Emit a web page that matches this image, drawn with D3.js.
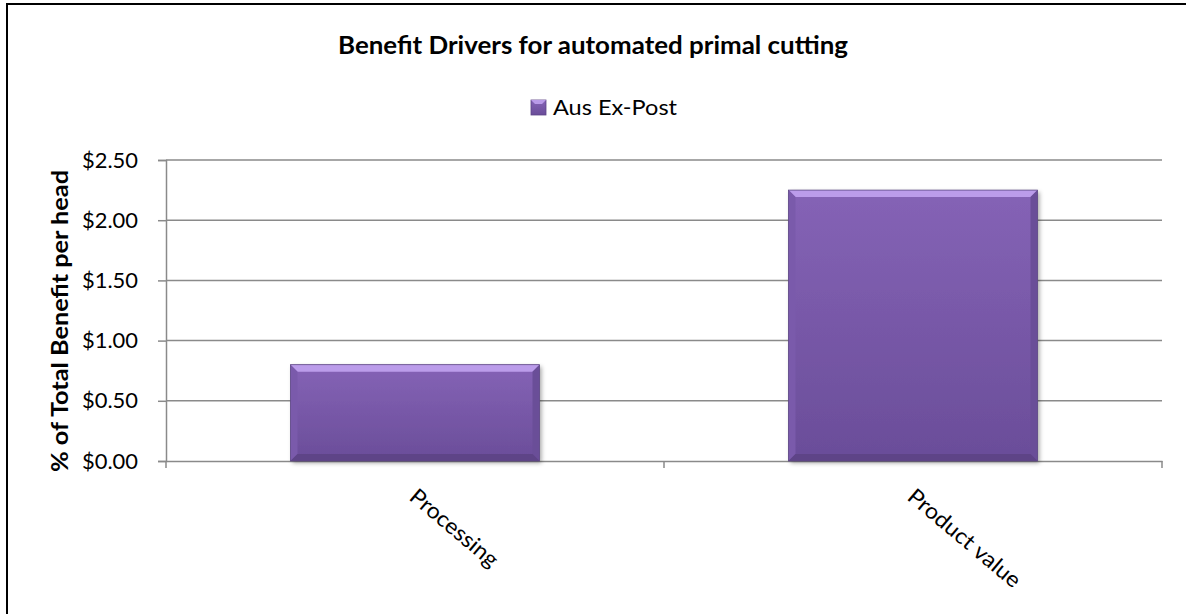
<!DOCTYPE html>
<html>
<head>
<meta charset="utf-8">
<script src="https://cdn.jsdelivr.net/npm/d3@7"></script>
<style>
  body { margin: 0; background: #fff; }
  svg { display: block; font-family: Lato, "Open Sans", sans-serif; }
</style>
</head>
<body>
<div id="chart"></div>
<script>
// Data
const categories = ["Processing", "Product value"];
const seriesName = "Aus Ex-Post";
const values = [0.80, 2.25];
const yTicks = [0, 0.5, 1.0, 1.5, 2.0, 2.5];

const W = 1186, H = 614;
const margin = { top: 160, right: 24, bottom: 153, left: 166 };
const width = W - margin.left - margin.right;
const height = H - margin.top - margin.bottom;

const svg = d3.select("#chart").append("svg")
    .attr("width", W)
    .attr("height", H);

// Defs: gradient + shadow
const defs = svg.append("defs");
const grad = defs.append("linearGradient")
    .attr("id", "barGrad")
    .attr("x1", 0).attr("y1", 0).attr("x2", 0).attr("y2", 1);
grad.append("stop").attr("offset", "0%").attr("stop-color", "#8563b6");
grad.append("stop").attr("offset", "100%").attr("stop-color", "#6a4d99");

const shadow = defs.append("filter").attr("id", "shadow")
    .attr("x", "-5%").attr("y", "-5%").attr("width", "115%").attr("height", "115%");
shadow.append("feDropShadow")
    .attr("dx", 2).attr("dy", 2).attr("stdDeviation", 2)
    .attr("flood-color", "#000").attr("flood-opacity", 0.35);

// Outer border
svg.append("rect")
    .attr("x", 7).attr("y", 4)
    .attr("width", W + 10).attr("height", H + 10)
    .attr("fill", "none")
    .attr("stroke", "#000")
    .attr("stroke-width", 2);

// Title
svg.append("text")
    .attr("x", 593).attr("y", 54)
    .attr("text-anchor", "middle")
    .attr("font-weight", "bold")
    .attr("font-size", 24)
    .attr("textLength", 510)
    .attr("lengthAdjust", "spacingAndGlyphs")
    .text("Benefit Drivers for automated primal cutting");

// Legend
const legend = svg.append("g").attr("transform", "translate(531,100)");
legend.append("rect")
    .attr("width", 15).attr("height", 15)
    .attr("fill", "url(#barGrad)")
    .attr("stroke", "#5e4487").attr("stroke-width", 0.8);
legend.append("path")
    .attr("d", "M0,0 L15,0 L11,4 L4,4 Z")
    .attr("fill", "#b99ae8");
legend.append("text")
    .attr("x", 22).attr("y", 15)
    .attr("font-size", 22)
    .attr("textLength", 124)
    .attr("lengthAdjust", "spacingAndGlyphs")
    .text(seriesName);

const g = svg.append("g").attr("transform", `translate(${margin.left},${margin.top})`);

const x = d3.scaleBand().domain(categories).range([0, width]).paddingInner(0.5).paddingOuter(0.25);
const y = d3.scaleLinear().domain([0, 2.5]).range([height, 0]);

// Gridlines
g.append("g")
    .selectAll("line")
    .data(yTicks.filter(d => d > 0))
    .join("line")
    .attr("x1", 0).attr("x2", width)
    .attr("y1", d => y(d)).attr("y2", d => y(d))
    .attr("stroke", "#8a8a8a")
    .attr("stroke-width", 1.5);

// Y axis
const yAxis = g.append("g")
    .call(d3.axisLeft(y).tickValues(yTicks).tickSize(8).tickPadding(20)
        .tickFormat(d => "$" + d.toFixed(2)));
yAxis.select(".domain").attr("stroke", "#8a8a8a").attr("stroke-width", 1.5);
yAxis.selectAll(".tick line").attr("stroke", "#8a8a8a").attr("stroke-width", 1.5);
yAxis.selectAll(".tick text")
    .attr("font-size", 22)
    .attr("fill", "#000")
    .attr("font-family", "Lato, sans-serif")
    .attr("textLength", 56)
    .attr("lengthAdjust", "spacingAndGlyphs");

// X axis
const xAxis = g.append("g")
    .attr("transform", `translate(0,${height})`)
    .call(d3.axisBottom(x).tickSize(0).tickFormat(""));
xAxis.select(".domain").attr("stroke", "#8a8a8a").attr("stroke-width", 1.5);
// category boundary ticks
g.append("g")
    .selectAll("line")
    .data([0, 1, 2])
    .join("line")
    .attr("x1", i => i * width / categories.length)
    .attr("x2", i => i * width / categories.length)
    .attr("y1", height).attr("y2", height + 7)
    .attr("stroke", "#8a8a8a")
    .attr("stroke-width", 1.5);

// Category labels
const labelLen = { "Processing": 108, "Product value": 140 };
g.append("g")
    .selectAll("text")
    .data(categories)
    .join("text")
    .attr("transform", d => `translate(${x(d) + x.bandwidth() / 2 - 7},${height + 38}) rotate(40)`)
    .attr("font-size", 22)
    .attr("textLength", d => labelLen[d])
    .attr("lengthAdjust", "spacingAndGlyphs")
    .text(d => d);

// Bars
const bev = 7;
const bars = g.append("g")
    .selectAll("g")
    .data(categories.map((c, i) => ({ c, v: values[i] })))
    .join("g")
    .attr("transform", d => `translate(${x(d.c)},${y(d.v)})`);

bars.append("rect")
    .attr("width", x.bandwidth())
    .attr("height", d => height - y(d.v))
    .attr("fill", "url(#barGrad)")
    .attr("filter", "url(#shadow)");

// top bevel (highlight)
bars.append("path")
    .attr("d", d => `M0,0 L${x.bandwidth()},0 L${x.bandwidth() - bev},${bev} L${bev},${bev} Z`)
    .attr("fill", "#bb9cea");
// left bevel
bars.append("path")
    .attr("d", d => { const h = height - y(d.v); return `M0,0 L${bev},${bev} L${bev},${h - bev} L0,${h} Z`; })
    .attr("fill", "#7a5aab");
// right bevel
bars.append("path")
    .attr("d", d => { const h = height - y(d.v), bw = x.bandwidth(); return `M${bw},0 L${bw},${h} L${bw - bev},${h - bev} L${bw - bev},${bev} Z`; })
    .attr("fill", "#6a4e98");
// bottom bevel
bars.append("path")
    .attr("d", d => { const h = height - y(d.v), bw = x.bandwidth(); return `M0,${h} L${bw},${h} L${bw - bev},${h - bev} L${bev},${h - bev} Z`; })
    .attr("fill", "#5e4487");
// outline
bars.append("rect")
    .attr("width", x.bandwidth())
    .attr("height", d => height - y(d.v))
    .attr("fill", "none")
    .attr("stroke", "#5f4a86")
    .attr("stroke-width", 0.8);

// Y axis title
svg.append("text")
    .attr("transform", "translate(68,321) rotate(-90)")
    .attr("text-anchor", "middle")
    .attr("font-weight", "bold")
    .attr("font-size", 22)
    .attr("textLength", 302)
    .attr("lengthAdjust", "spacingAndGlyphs")
    .text("% of Total Benefit per head");
</script>
</body>
</html>
